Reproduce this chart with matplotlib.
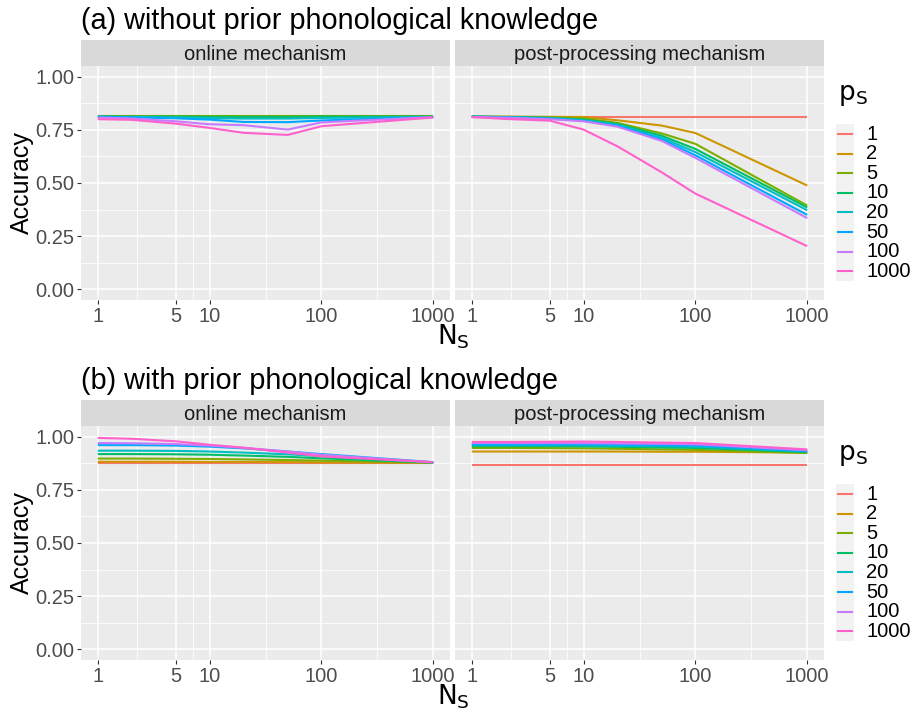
import matplotlib
matplotlib.use("Agg")
import matplotlib.pyplot as plt
from matplotlib.lines import Line2D
from matplotlib.patches import Rectangle
import numpy as np

plt.rcParams['font.family'] = ['Liberation Sans', 'DejaVu Sans']

# data
ns = [1, 2, 5, 10, 20, 50, 100, 1000]
ps_labels = ['1', '2', '5', '10', '20', '50', '100', '1000']
colors = ['#F8766D', '#CD9600', '#7CAE00', '#00BE67', '#00BFC4', '#00A9FF', '#C77CFF', '#FF61CC']

a_online = [
    [0.812, 0.812, 0.812, 0.812, 0.812, 0.812, 0.812, 0.812],
    [0.812, 0.812, 0.812, 0.812, 0.812, 0.812, 0.812, 0.812],
    [0.813, 0.813, 0.813, 0.813, 0.813, 0.813, 0.813, 0.813],
    [0.812, 0.812, 0.812, 0.811, 0.811, 0.811, 0.812, 0.812],
    [0.811, 0.810, 0.808, 0.805, 0.803, 0.803, 0.806, 0.811],
    [0.812, 0.809, 0.804, 0.798, 0.787, 0.786, 0.794, 0.810],
    [0.808, 0.803, 0.790, 0.776, 0.772, 0.751, 0.785, 0.810],
    [0.800, 0.797, 0.779, 0.759, 0.736, 0.726, 0.767, 0.808],
]
a_post = [
    [0.812, 0.812, 0.812, 0.812, 0.812, 0.812, 0.812, 0.812],
    [0.812, 0.812, 0.811, 0.810, 0.795, 0.770, 0.735, 0.488],
    [0.812, 0.811, 0.808, 0.803, 0.783, 0.733, 0.684, 0.394],
    [0.812, 0.810, 0.806, 0.798, 0.778, 0.722, 0.660, 0.385],
    [0.812, 0.810, 0.805, 0.795, 0.774, 0.713, 0.645, 0.372],
    [0.812, 0.809, 0.803, 0.792, 0.770, 0.705, 0.630, 0.350],
    [0.810, 0.807, 0.800, 0.790, 0.765, 0.698, 0.618, 0.335],
    [0.810, 0.801, 0.793, 0.751, 0.673, 0.550, 0.450, 0.203],
]
b_online = [
    [0.877, 0.877, 0.877, 0.877, 0.877, 0.877, 0.877, 0.877],
    [0.882, 0.882, 0.882, 0.881, 0.881, 0.880, 0.879, 0.877],
    [0.897, 0.897, 0.896, 0.895, 0.893, 0.890, 0.887, 0.878],
    [0.918, 0.918, 0.917, 0.915, 0.911, 0.905, 0.898, 0.878],
    [0.934, 0.934, 0.933, 0.930, 0.925, 0.917, 0.908, 0.879],
    [0.960, 0.960, 0.958, 0.953, 0.945, 0.930, 0.918, 0.880],
    [0.970, 0.969, 0.965, 0.958, 0.948, 0.930, 0.915, 0.879],
    [0.994, 0.990, 0.978, 0.962, 0.948, 0.925, 0.907, 0.880],
]
b_post = [
    [0.865, 0.865, 0.865, 0.865, 0.865, 0.865, 0.865, 0.865],
    [0.930, 0.930, 0.930, 0.930, 0.930, 0.929, 0.929, 0.925],
    [0.947, 0.947, 0.946, 0.945, 0.943, 0.940, 0.938, 0.923],
    [0.955, 0.955, 0.955, 0.954, 0.952, 0.949, 0.947, 0.927],
    [0.960, 0.960, 0.960, 0.959, 0.957, 0.955, 0.953, 0.930],
    [0.963, 0.963, 0.963, 0.963, 0.962, 0.960, 0.958, 0.932],
    [0.970, 0.970, 0.970, 0.969, 0.968, 0.966, 0.964, 0.936],
    [0.975, 0.975, 0.976, 0.977, 0.975, 0.972, 0.970, 0.940],
]

W, H = 914, 710
fig = plt.figure(figsize=(W / 100, H / 100), dpi=100)


def box(x0, y0, x1, y1):
    # pixel box (top-left origin) -> figure fraction rect
    return [x0 / W, 1 - y1 / H, (x1 - x0) / W, (y1 - y0) / H]


def panel(x0, x1, y0, y1, strip_top, data, strip_label, show_y):
    ax = fig.add_axes(box(x0, y0, x1, y1))
    ax.set_facecolor('#EBEBEB')
    for s in ax.spines.values():
        s.set_visible(False)
    ax.set_xscale('log')
    ax.set_xlim(10 ** -0.15, 10 ** 3.15)
    ax.set_ylim(-0.05, 1.05)
    ax.set_xticks([1, 5, 10, 100, 1000])
    ax.set_xticklabels(['1', '5', '10', '100', '1000'])
    ax.set_xticks([np.sqrt(5), np.sqrt(50), np.sqrt(1000), np.sqrt(100000)], minor=True)
    ax.set_xticklabels([], minor=True)
    ax.set_yticks([0, 0.25, 0.5, 0.75, 1.0])
    ax.set_yticks([0.125, 0.375, 0.625, 0.875], minor=True)
    if show_y:
        ax.set_yticklabels(['0.00', '0.25', '0.50', '0.75', '1.00'])
    else:
        ax.set_yticklabels([])
    ax.grid(which='major', color='white', lw=1.1)
    ax.grid(which='minor', color='white', lw=0.55)
    ax.set_axisbelow(True)
    ax.tick_params(which='major', length=3, width=0.8, color='#333333',
                   labelsize=14.5, labelcolor='#4D4D4D', pad=2)
    ax.tick_params(which='minor', length=0)
    if not show_y:
        ax.tick_params(axis='y', which='major', length=0)
    for vals, c in zip(data, colors):
        ax.plot(ns, vals, color=c, lw=1.5, solid_capstyle='butt')
    sax = fig.add_axes(box(x0, strip_top, x1, y0))
    sax.set_facecolor('#D9D9D9')
    sax.set_xticks([])
    sax.set_yticks([])
    for s in sax.spines.values():
        s.set_visible(False)
    sax.text(0.5, 0.45, strip_label, ha='center', va='center', fontsize=14.5,
             color='#1A1A1A', transform=sax.transAxes)
    return ax


def legend_block(y_title):
    fig.text(838 / W, 1 - y_title / H, r'$\mathrm{p}_\mathrm{S}$', fontsize=19,
             ha='left', va='center')
    y_first = y_title + 38
    step = 19.6
    fig.patches.append(Rectangle((836 / W, 1 - (y_first - 10 + 8 * step) / H),
                                 18 / W, 8 * step / H, transform=fig.transFigure,
                                 facecolor='#F2F2F2', edgecolor='none'))
    for i, (lab, c) in enumerate(zip(ps_labels, colors)):
        y = 1 - (y_first + i * step) / H
        fig.lines.append(Line2D([838 / W, 852 / W], [y, y], transform=fig.transFigure,
                                color=c, lw=1.5))
        fig.text(866 / W, y, lab, fontsize=14.5, ha='left', va='center')


rows = [
    ('(a) without prior phonological knowledge', 0, a_online, a_post),
    ('(b) with prior phonological knowledge', 360, b_online, b_post),
]
for title, off, d_on, d_post in rows:
    top = 66 + off
    bot = 300 + off
    strip = 39.5 + off
    panel(81, 450, top, bot, strip, d_on, 'online mechanism', True)
    panel(455, 824, top, bot, strip, d_post, 'post-processing mechanism', False)
    fig.text(81 / W, 1 - (21 + off) / H, title, fontsize=20.8, ha='left', va='center')
    fig.text(22 / W, 1 - (183 + off) / H, 'Accuracy', fontsize=18, rotation=90,
             ha='center', va='center')
    fig.text(453 / W, 1 - (337 + off) / H, r'$\mathrm{N}_\mathrm{S}$', fontsize=19,
             ha='center', va='center')
    legend_block(96 + off)

fig.savefig('out.png', dpi=100)
